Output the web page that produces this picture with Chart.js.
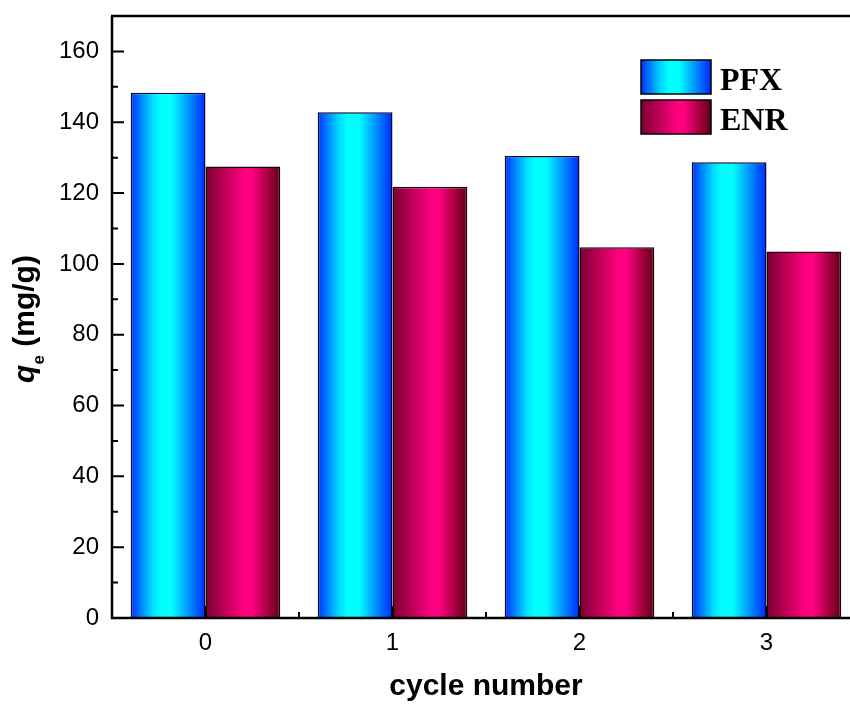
<!DOCTYPE html>
<html>
<head>
<meta charset="utf-8">
<script src="https://cdn.jsdelivr.net/npm/chart.js@4"></script>
<style>
  html, body { margin: 0; padding: 0; background: #fff; overflow: hidden; }
  #wrap { width: 850px; height: 707px; overflow: hidden; }
  canvas { display: block; }
</style>
</head>
<body>
<div id="wrap"><canvas id="c" width="870" height="707"></canvas></div>
<script>
// Adsorption capacity over regeneration cycles
const cycles = ['0', '1', '2', '3'];
const pfx = [148.3, 142.8, 130.5, 128.7];
const enr = [127.5, 121.8, 104.7, 103.5];
const seriesNames = ['PFX', 'ENR'];
const yTicksMajor = 20;
const yMax = 170;

const SANS = '"Liberation Sans", Arial, sans-serif';
const SERIF = '"Liberation Serif", "Times New Roman", serif';
Chart.defaults.font.family = SANS;
Chart.defaults.color = '#000';

// horizontal shaded fills
const blueStops = [[0, '#0030ff'], [0.28, '#00d8ff'], [0.4, '#00ffff'], [0.55, '#00ffff'], [0.78, '#0090ff'], [1, '#0028ff']];
const redStops = [[0, '#7a0030'], [0.3, '#c8005c'], [0.52, '#ff0080'], [0.62, '#ff0080'], [0.85, '#a0003c'], [1, '#5e0018']];

function makeGrad(ctx, x0, x1, stops) {
  const g = ctx.createLinearGradient(x0, 0, x1, 0);
  stops.forEach(s => g.addColorStop(s[0], s[1]));
  return g;
}

function barFill(stops, side) {
  return (c) => {
    const chart = c.chart;
    if (!chart.chartArea) return stops[2][1];
    const xs = chart.scales.x;
    const center = xs.getPixelForValue(c.dataIndex);
    const step = xs.getPixelForValue(1) - xs.getPixelForValue(0);
    const w = step * 0.8 / 2;
    const x0 = side === 0 ? center - w : center;
    return makeGrad(chart.ctx, x0, x0 + w, stops);
  };
}

// axes frame with inward ticks, and the rotated y title
const framePlugin = {
  id: 'frame',
  afterDatasetsDraw(chart) {
    const { ctx, chartArea: a, scales } = chart;
    const ys = scales.y, xs = scales.x;
    ctx.save();
    ctx.strokeStyle = '#000';
    ctx.lineWidth = 2.5;
    ctx.beginPath();
    ctx.moveTo(a.left, a.bottom + 1);
    ctx.lineTo(a.left, a.top);
    ctx.moveTo(a.left - 1, a.top);
    ctx.lineTo(chart.width, a.top);
    ctx.moveTo(a.left - 1, a.bottom);
    ctx.lineTo(chart.width, a.bottom);
    ctx.stroke();
    ctx.lineWidth = 2;
    ctx.beginPath();
    for (let v = 0; v <= yMax; v += yTicksMajor / 2) {
      const y = ys.getPixelForValue(v);
      if (v === 0) continue;
      const len = (v % yTicksMajor === 0) ? 12 : 6;
      ctx.moveTo(a.left, y);
      ctx.lineTo(a.left + len, y);
    }
    for (let i = 0; i < cycles.length; i++) {
      const x = xs.getPixelForValue(i);
      ctx.moveTo(x, a.bottom);
      ctx.lineTo(x, a.bottom - 12);
      const xm = x + (xs.getPixelForValue(1) - xs.getPixelForValue(0)) / 2;
      ctx.moveTo(xm, a.bottom);
      ctx.lineTo(xm, a.bottom - 6);
    }
    ctx.stroke();
    ctx.restore();
  },
  afterDraw(chart) {
    const { ctx, chartArea: a } = chart;
    ctx.save();
    ctx.fillStyle = '#000';
    const cy = (a.top + a.bottom) / 2 + 2;
    ctx.translate(34, cy);
    ctx.rotate(-Math.PI / 2);
    ctx.textBaseline = 'alphabetic';
    const parts = [
      { t: 'q', f: 'italic bold 30px ' + SANS, dy: 0 },
      { t: 'e', f: 'bold 17px ' + SANS, dy: 10 },
      { t: ' (mg/g)', f: 'bold 30px ' + SANS, dy: 0 }
    ];
    let total = 0;
    parts.forEach(p => { ctx.font = p.f; p.w = ctx.measureText(p.t).width; total += p.w; });
    let x = -total / 2;
    parts.forEach(p => { ctx.font = p.f; ctx.fillText(p.t, x, p.dy); x += p.w; });
    ctx.restore();

    // legend
    ctx.save();
    const boxes = [
      { y: 60, stops: blueStops, name: seriesNames[0] },
      { y: 100, stops: redStops, name: seriesNames[1] }
    ];
    boxes.forEach(b => {
      ctx.fillStyle = makeGrad(ctx, 641, 711, b.stops);
      ctx.fillRect(641, b.y, 70, 34);
      ctx.strokeStyle = '#000';
      ctx.lineWidth = 1.5;
      ctx.strokeRect(641, b.y, 70, 34);
      ctx.fillStyle = '#000';
      ctx.font = 'bold 32px ' + SERIF;
      ctx.textBaseline = 'alphabetic';
      ctx.fillText(b.name, 720, b.y + 30);
    });
    ctx.restore();
  }
};

new Chart(document.getElementById('c'), {
  type: 'bar',
  data: {
    labels: cycles,
    datasets: [
      { label: seriesNames[0], data: pfx, backgroundColor: barFill(blueStops, 0), borderColor: '#08083a', borderWidth: 1.5, borderSkipped: 'bottom' },
      { label: seriesNames[1], data: enr, backgroundColor: barFill(redStops, 1), borderColor: '#1a0008', borderWidth: 1.5, borderSkipped: 'bottom' }
    ]
  },
  options: {
    responsive: false,
    animation: false,
    devicePixelRatio: 1,
    layout: { padding: { left: 0, top: 16, right: 10, bottom: 0 } },
    datasets: { bar: { categoryPercentage: 0.8, barPercentage: 1.0 } },
    plugins: { legend: { display: false }, tooltip: { enabled: false } },
    scales: {
      x: {
        type: 'category',
        offset: true,
        grid: { display: false, drawTicks: false },
        border: { display: false },
        ticks: { font: { size: 24 }, color: '#000', padding: 11 },
        title: { display: true, text: 'cycle number', font: { size: 30, weight: 'bold' }, color: '#000', padding: { top: 0, bottom: 2 } },
        afterFit(s) { s.height = 89; s.paddingLeft = 0; s.paddingRight = 0; }
      },
      y: {
        min: 0,
        max: yMax,
        grid: { display: false, drawTicks: false },
        border: { display: false },
        ticks: { stepSize: yTicksMajor, includeBounds: false, font: { size: 24 }, color: '#000', padding: 13 },
        afterFit(s) { s.width = 112; s.paddingTop = 0; s.paddingBottom = 0; }
      }
    }
  },
  plugins: [framePlugin]
});
</script>
</body>
</html>
